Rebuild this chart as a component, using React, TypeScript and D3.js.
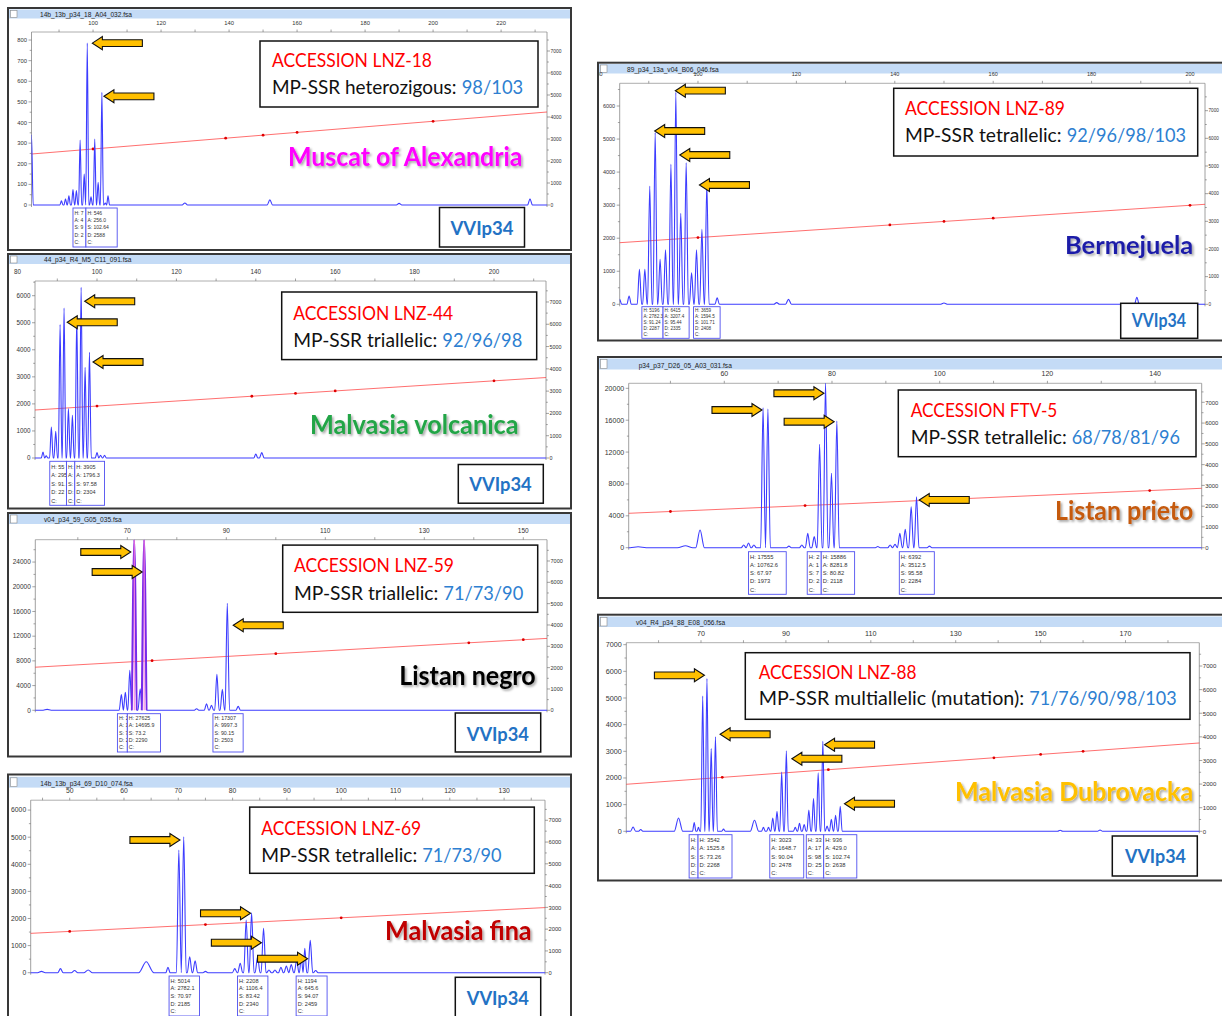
import React from "react";
import * as d3 from "d3";

// Each peak: [size in bp, height in RFU, half width in bp (optional)]
type Peak = [number, number, number?];
type Pt = [number, number];
type Arrow = [number, number, "left" | "right"];
type Info = [number, number, string[]];

// ---------------- Muscat of Alexandria (LNZ-18)
const muscatTitle = "14b_13b_p34_18_A04_032.fsa";
const muscatTopLabels = [100, 120, 140, 160, 180, 200, 220];
const muscatLeftTicks = [0, 100, 200, 300, 400, 500, 600, 700, 800];
const muscatPeaks: Peak[] = [
  [81.9, 340, 0.5], [90.7, 20], [91.9, 30], [92.9, 45], [94.1, 75], [95.1, 70], [96.2, 315],
  [97.4, 150], [98.3, 785], [99.4, 40], [100.5, 320], [101.5, 110], [102.6, 546], [103.6, 10],
  [104.4, 45], [127, 10, 0.8], [152, 25, 0.8], [190, 8, 0.8], [228.5, 30, 0.7],
];
const muscatSizing: Pt[] = [[81.9, 2318], [233.5, 4227]];
const muscatSizingDots: Pt[] = [[100, 2545], [139, 3036], [150, 3175], [160, 3301], [200, 3805]];
const muscatArrows: Arrow[] = [[99.8, 785, "left"], [103.2, 527, "left"]];
const muscatInfo: Info[] = [
  [94.1, 97.9, ["H: 7", "A: 4", "S: 9", "D: 2", "C:"]],
  [97.9, 107.1, ["H: 546", "A: 256.0", "S: 102.64", "D: 2588", "C:"]],
];
const muscatText = ["ACCESSION LNZ-18", "MP-SSR heterozigous:", "98/103", "Muscat of Alexandria"];

// ---------------- Malvasia volcanica (LNZ-44)
const volcanicaTitle = "44_p34_R4_M5_C11_091.fsa";
const volcanicaTopLabels = [80, 100, 120, 140, 160, 180, 200];
const volcanicaLeftTicks = [0, 1000, 2000, 3000, 4000, 5000, 6000];
const volcanicaPeaks: Peak[] = [
  [86.4, 220], [87.2, 80], [88.5, 1146], [89.6, 986], [90.7, 4930], [91.7, 5545], [92.8, 1824],
  [93.8, 1577], [94.9, 5237], [96.0, 6309], [97.0, 3352], [98.1, 3905], [100.0, 200],
  [100.9, 100], [101.9, 100], [140, 150, 0.5], [141.5, 200, 0.6],
];
const volcanicaSizing: Pt[] = [[84.38, 2153], [213.1, 3610]];
const volcanicaSizingDots: Pt[] = [[100, 2330], [139, 2771], [150, 2896], [160, 3009], [200, 3462]];
const volcanicaArrows: Arrow[] = [[96.9, 5793, "left"], [92.5, 5017, "left"], [99.0, 3549, "left"]];
const volcanicaInfo: Info[] = [
  [88.1, 92.3, ["H: 55", "A: 295", "S: 91.", "D: 22", "C:"]],
  [92.3, 94.4, ["H:", "A:", "S:", "D:", "C:"]],
  [94.4, 101.9, ["H: 3905", "A: 1796.3", "S: 97.58", "D: 2304", "C:"]],
];
const volcanicaText = ["ACCESSION LNZ-44", "MP-SSR triallelic:", "92/96/98", "Malvasia volcanica"];

// ---------------- Listan negro (LNZ-59)
const negroTitle = "v04_p34_59_G05_035.fsa";
const negroTopLabels = [70, 90, 110, 130, 150];
const negroLeftTicks = [0, 4000, 8000, 12000, 16000, 20000, 24000];
const negroPeaks: Peak[] = [
  [53.8, 150, 0.8], [68.8, 2530], [69.6, 2900, 0.4], [70.5, 6476, 0.4], [71.4, 27625, 0.5],
  [72.6, 3500], [73.4, 27620, 0.5], [84.0, 260], [86.0, 1070], [87.0, 800], [88.1, 5830],
  [89.2, 3400], [90.2, 17307], [92.4, 650],
];
const negroOffscale = [71.4, 73.4];
const negroSizing: Pt[] = [[51.41, 2020], [154.79, 3371]];
const negroSizingDots: Pt[] = [[75, 2328], [100, 2655], [139, 3165], [150, 3309]];
const negroArrows: Arrow[] = [[70.7, 25630, "right"], [73.0, 22390, "right"], [91.4, 13760, "left"]];
const negroInfo: Info[] = [
  [68.0, 70.0, ["H: 2", "A: 1", "S: 7", "D: 2", "C:"]],
  [70.0, 76.7, ["H: 27625", "A: 14695.9", "S: 73.2", "D: 2290", "C:"]],
  [87.3, 93.4, ["H: 17307", "A: 9997.3", "S: 90.15", "D: 2503", "C:"]],
];
const negroText = ["ACCESSION LNZ-59", "MP-SSR triallelic:", "71/73/90", "Listan negro"];

// ---------------- Malvasia fina (LNZ-69)
const finaTitle = "14b_13b_p34_69_D10_074.fsa";
const finaTopLabels = [50, 60, 70, 80, 90, 100, 110, 120, 130];
const finaLeftTicks = [0, 1000, 2000, 3000, 4000, 5000, 6000];
const finaPeaks: Peak[] = [
  [44.8, 50, 0.7], [48.3, 150, 0.5], [50.9, 80, 0.6], [53.4, 100, 0.8], [64.1, 406, 1.4],
  [68.1, 200, 0.4], [70.1, 4527], [71.0, 5014], [72.1, 590], [73.1, 443], [75.0, 50],
  [80.4, 150], [81.4, 350], [82.5, 1945], [83.5, 2208], [84.6, 600], [85.7, 1638], [86.7, 100],
  [87.8, 100], [88.9, 200], [89.9, 250], [90.8, 300], [91.8, 450], [92.65, 600, 0.35],
  [93.3, 900, 0.35], [94.3, 1194], [95.3, 80],
];
const finaSizing: Pt[] = [[42.82, 1807], [137.53, 2990]];
const finaSizingDots: Pt[] = [[50, 1897], [75, 2209], [100, 2521]];
const finaArrows: Arrow[] = [
  [70.3, 4897, "right"], [83.3, 2192, "right"], [85.3, 1107, "right"], [93.8, 517, "right"],
];
const finaInfo: Info[] = [
  [68.3, 73.9, ["H: 5014", "A: 2782.1", "S: 70.97", "D: 2185", "C:"]],
  [80.9, 86.5, ["H: 2208", "A: 1106.4", "S: 83.42", "D: 2340", "C:"]],
  [91.7, 97.4, ["H: 1194", "A: 645.6", "S: 94.07", "D: 2459", "C:"]],
];
const finaText = ["ACCESSION LNZ-69", "MP-SSR tetrallelic:", "71/73/90", "Malvasia fina"];

// ---------------- Bermejuela (LNZ-89)
const bermejuelaTitle = "89_p34_13a_v04_B06_046.fsa";
const bermejuelaTopLabels = [80, 100, 120, 140, 160, 180, 200];
const bermejuelaLeftTicks = [0, 1000, 2000, 3000, 4000, 5000, 6000];
const bermejuelaPeaks: Peak[] = [
  [84.09, 150, 0.4], [86.0, 250], [88.1, 1059], [89.2, 1059], [90.2, 3580], [91.3, 5196],
  [92.3, 1362], [93.4, 1650], [94.5, 4236], [95.5, 6415], [96.5, 2753], [97.6, 4285],
  [98.7, 950], [99.7, 1650], [100.8, 2270], [101.8, 3659], [103.9, 200], [116, 50, 0.6],
  [118.4, 150, 0.6], [150, 40, 0.8], [189.2, 212, 0.5],
];
const bermejuelaSizing: Pt[] = [[84.09, 2227], [203.05, 3615]];
const bermejuelaSizingDots: Pt[] = [[100, 2413], [139, 2868], [150, 2996], [160, 3113], [200, 3580]];
const bermejuelaArrows: Arrow[] = [
  [95.4, 6464, "left"], [91.2, 5244, "left"], [96.3, 4518, "left"], [100.3, 3610, "left"],
];
const bermejuelaInfo: Info[] = [
  [88.6, 92.9, ["H: 5196", "A: 2782.3", "S: 91.24", "D: 2287", "C:"]],
  [92.9, 98.2, ["H: 6415", "A: 3207.4", "S: 95.44", "D: 2335", "C:"]],
  [99.1, 104.5, ["H: 3659", "A: 1594.5", "S: 101.71", "D: 2408", "C:"]],
];
const bermejuelaText = ["ACCESSION LNZ-89", "MP-SSR tetrallelic:", "92/96/98/103", "Bermejuela"];

// ---------------- Listan prieto (FTV-5)
const prietoTitle = "p34_p37_D26_05_A03_031.fsa";
const prietoTopLabels = [60, 80, 100, 120, 140];
const prietoLeftTicks = [0, 4000, 8000, 12000, 16000, 20000];
const prietoPeaks: Peak[] = [
  [44, 120, 1.5], [52.8, 250, 1.5], [55.5, 2220, 0.8], [63.6, 340], [64.5, 590], [65.5, 340],
  [67.2, 17555, 0.45], [68.1, 17400, 0.45], [72.0, 200], [74.4, 340], [75.5, 1800],
  [76.7, 1400], [77.7, 12970], [78.8, 20800], [79.9, 9330], [80.9, 15886], [88.5, 150],
  [90.8, 340], [91.7, 420], [92.6, 1800], [93.6, 2300], [94.7, 5146], [95.7, 6392], [98.1, 200],
];
const prietoSizing: Pt[] = [[42.25, 1656], [148.65, 2860]];
const prietoSizingDots: Pt[] = [[50, 1744], [75, 2027], [139, 2750]];
const prietoArrows: Arrow[] = [
  [67.0, 17280, "right"], [78.5, 19380, "right"], [80.4, 15810, "right"], [96.2, 5990, "left"],
];
const prietoInfo: Info[] = [
  [64.5, 71.5, ["H: 17555", "A: 10762.6", "S: 67.97", "D: 1973", "C:"]],
  [75.4, 78.0, ["H: 2", "A: 1", "S: 7", "D: 2", "C:"]],
  [78.0, 84.2, ["H: 15886", "A: 8281.8", "S: 80.82", "D: 2118", "C:"]],
  [92.5, 99.0, ["H: 6392", "A: 3512.5", "S: 95.58", "D: 2284", "C:"]],
];
const prietoText = ["ACCESSION FTV-5", "MP-SSR tetrallelic:", "68/78/81/96", "Listan prieto"];

// ---------------- Malvasia Dubrovacka (LNZ-88)
const dubrovackaTitle = "v04_R4_p34_88_E08_056.fsa";
const dubrovackaTopLabels = [70, 90, 110, 130, 150, 170];
const dubrovackaLeftTicks = [0, 1000, 2000, 3000, 4000, 5000, 6000, 7000];
const dubrovackaPeaks: Peak[] = [
  [54.0, 160, 0.6], [55.8, 70, 0.5], [64.7, 500, 1.0], [68.4, 330, 0.4], [69.4, 150, 0.35],
  [70.4, 5075], [71.4, 5725], [72.4, 3100], [73.4, 3542], [75.3, 80], [82.6, 412, 1.0],
  [84.7, 150], [85.9, 150], [86.9, 500], [87.9, 750], [89.0, 2225], [90.1, 3023], [92.2, 150],
  [93.2, 300], [94.3, 250], [95.4, 800], [96.5, 1225], [97.6, 2190], [98.7, 3375], [99.7, 200],
  [100.7, 450], [101.7, 600], [102.8, 936], [154.6, 40, 0.6], [164, 50, 0.6],
];
const dubrovackaSizing: Pt[] = [[52.4, 1992], [187.38, 3741]];
const dubrovackaSizingDots: Pt[] = [[75, 2285], [100, 2609], [139, 3114], [150, 3257], [160, 3386]];
const dubrovackaArrows: Arrow[] = [
  [70.8, 5850, "right"], [74.5, 3638, "left"], [91.4, 2723, "left"], [99.1, 3248, "left"],
  [103.8, 1035, "left"],
];
const dubrovackaInfo: Info[] = [
  [67.2, 69.3, ["H:", "A:", "S:", "D:", "C:"]],
  [69.3, 77.3, ["H: 3542", "A: 1525.8", "S: 73.26", "D: 2268", "C:"]],
  [86.2, 94.2, ["H: 3023", "A: 1648.7", "S: 90.04", "D: 2478", "C:"]],
  [94.8, 98.9, ["H: 33", "A: 17", "S: 98", "D: 25", "C:"]],
  [98.9, 106.7, ["H: 936", "A: 429.0", "S: 102.74", "D: 2638", "C:"]],
];
const dubrovackaText = [
  "ACCESSION LNZ-88", "MP-SSR multiallelic (mutation):", "71/76/90/98/103", "Malvasia Dubrovacka",
];

const rightLabels = [0, 1000, 2000, 3000, 4000, 5000, 6000, 7000];
const markerText = "VVIp34";

// ---------------- layout of the seven screenshots
type Layout = {
  frame: number[]; bar: number[]; titleX: number; plot: number[]; xDomain: number[];
  yMax: number; rMax: number; topStep: number; fs: number;
  infoY: number; infoH: number; infoFs: number;
  box: number[]; textX: number; l1: number; l2: number; w1: number; blue: number[];
  variety: number[]; color: string; vv: number[] | null;
};
type Panel = {
  title: string; topLabels: number[]; leftTicks: number[]; peaks: Peak[]; sizing: Pt[];
  dots: Pt[]; arrows: Arrow[]; info: Info[]; text: string[]; offscale?: number[]; lay: Layout;
};

const panels: Panel[] = [
  {
    title: muscatTitle, topLabels: muscatTopLabels, leftTicks: muscatLeftTicks, peaks: muscatPeaks,
    sizing: muscatSizing, dots: muscatSizingDots, arrows: muscatArrows, info: muscatInfo, text: muscatText,
    lay: {
      frame: [8, 8, 571, 250], bar: [9.5, 18.5], titleX: 40, plot: [31.5, 32, 547, 205],
      xDomain: [81.9, 233.5], yMax: 839, rMax: 7864, topStep: 10, fs: 5.8,
      infoY: 208, infoH: 39, infoFs: 5, box: [260, 41, 538, 107], textX: 272, l1: 67, l2: 94,
      w1: 160, blue: [461.7, 523.3], variety: [288, 524, 166, 27], color: "#FF00FF",
      vv: [439.5, 207.5, 524.5, 247, 450.5, 63, 235],
    },
  },
  {
    title: volcanicaTitle, topLabels: volcanicaTopLabels, leftTicks: volcanicaLeftTicks, peaks: volcanicaPeaks,
    sizing: volcanicaSizing, dots: volcanicaSizingDots, arrows: volcanicaArrows, info: volcanicaInfo, text: volcanicaText,
    lay: {
      frame: [8, 254, 571, 508.5], bar: [255, 264], titleX: 44, plot: [35, 281, 546, 458],
      xDomain: [84.38, 213.1], yMax: 6543, rMax: 7941, topStep: 10, fs: 6.3,
      infoY: 461.3, infoH: 44, infoFs: 5.5, box: [281.7, 292, 536.7, 359.6], textX: 293.3, l1: 320, l2: 347,
      w1: 160, blue: [442.3, 522.3], variety: [310, 519.3, 434.2, 27], color: "#22A546",
      vv: [458.3, 464.5, 543.3, 503.2, 469.3, 62.4, 491],
    },
  },
  {
    title: negroTitle, topLabels: negroTopLabels, leftTicks: negroLeftTicks, peaks: negroPeaks, offscale: negroOffscale,
    sizing: negroSizing, dots: negroSizingDots, arrows: negroArrows, info: negroInfo, text: negroText,
    lay: {
      frame: [8, 513, 571, 756.5], bar: [514, 524], titleX: 44, plot: [35.3, 539.7, 547, 710.3],
      xDomain: [51.41, 154.79], yMax: 27620, rMax: 7998, topStep: 10, fs: 6.5,
      infoY: 713.7, infoH: 38.3, infoFs: 5.3, box: [282.7, 545.1, 537.7, 612.3], textX: 294, l1: 571.7, l2: 599.7,
      w1: 160, blue: [443.3, 523.3], variety: [399.3, 535.7, 684.5, 27], color: "#000000",
      vv: [455.3, 713, 540.7, 752, 466.7, 62.3, 741],
    },
  },
  {
    title: finaTitle, topLabels: finaTopLabels, leftTicks: finaLeftTicks, peaks: finaPeaks,
    sizing: finaSizing, dots: finaSizingDots, arrows: finaArrows, info: finaInfo, text: finaText,
    lay: {
      frame: [8, 774.5, 571, 1022], bar: [776.8, 787.6], titleX: 40.3, plot: [30.7, 800.2, 545, 972.7],
      xDomain: [42.82, 137.53], yMax: 6365, rMax: 7922, topStep: 5, fs: 6.8,
      infoY: 976, infoH: 40, infoFs: 5.6, box: [249.7, 807.1, 534.3, 873.3], textX: 261.3, l1: 835, l2: 862,
      w1: 160, blue: [422.3, 501.7], variety: [385, 531.7, 940, 26], color: "#C00000",
      vv: [455.3, 977.3, 540.7, 1022, 466.7, 62.3, 1005.3],
    },
  },
  {
    title: bermejuelaTitle, topLabels: bermejuelaTopLabels, leftTicks: bermejuelaLeftTicks, peaks: bermejuelaPeaks,
    sizing: bermejuelaSizing, dots: bermejuelaSizingDots, arrows: bermejuelaArrows, info: bermejuelaInfo, text: bermejuelaText,
    lay: {
      frame: [598, 62.7, 1226, 340.5], bar: [64, 73.5], titleX: 627, plot: [619.7, 83.3, 1205, 304.3],
      xDomain: [84.09, 203.05], yMax: 6687, rMax: 7990, topStep: 10, fs: 5.5,
      infoY: 306.7, infoH: 31.6, infoFs: 4.6, box: [893.7, 88.3, 1197.7, 156], textX: 905, l1: 115, l2: 141.7,
      w1: 160, blue: [1066.7, 1186], variety: [1065, 1193.3, 254, 25], color: "#1E1EA8",
      vv: [1120.7, 303.3, 1197.7, 338.3, 1131.7, 54.3, 326.7],
    },
  },
  {
    title: prietoTitle, topLabels: prietoTopLabels, leftTicks: prietoLeftTicks, peaks: prietoPeaks,
    sizing: prietoSizing, dots: prietoSizingDots, arrows: prietoArrows, info: prietoInfo, text: prietoText,
    lay: {
      frame: [598, 357, 1226, 598], bar: [358.5, 369.5], titleX: 638.7, plot: [628.7, 383.3, 1201.7, 547.7],
      xDomain: [42.25, 148.65], yMax: 20630, rMax: 7915, topStep: 10, fs: 7,
      infoY: 551.7, infoH: 42.6, infoFs: 5.8, box: [898.3, 390, 1196, 456.7], textX: 910.7, l1: 416.7, l2: 444.3,
      w1: 146.7, blue: [1071.7, 1180], variety: [1055, 1193.3, 520, 26], color: "#C55A11", vv: null,
    },
  },
  {
    title: dubrovackaTitle, topLabels: dubrovackaTopLabels, leftTicks: dubrovackaLeftTicks, peaks: dubrovackaPeaks,
    sizing: dubrovackaSizing, dots: dubrovackaSizingDots, arrows: dubrovackaArrows, info: dubrovackaInfo, text: dubrovackaText,
    lay: {
      frame: [598, 614.7, 1226, 880.5], bar: [616.5, 627], titleX: 636, plot: [626.3, 642.7, 1199.3, 831.3],
      xDomain: [52.4, 187.38], yMax: 7074, rMax: 7988, topStep: 10, fs: 7.2,
      infoY: 834.7, infoH: 43.3, infoFs: 5.8, box: [745.3, 652.7, 1190, 719.3], textX: 758.7, l1: 678.7, l2: 705.3,
      w1: 158, blue: [1029.3, 1176.7], variety: [955, 1193.3, 801.3, 27], color: "#FFC000",
      vv: [1112.3, 836, 1197.3, 876, 1125, 61, 862.7],
    },
  },
];

// baseline - apex - baseline for every peak, smoothed by a monotone curve
function tracePoints(peaks: Peak[], x0: number, x1: number): Pt[] {
  const s = [...peaks].sort((a, b) => a[0] - b[0]);
  const pts: Pt[] = [[x0 - 10, 0]];
  s.forEach((p, i) => {
    const w = p[2] ?? 0.45;
    const lw = i > 0 ? Math.min(w, (p[0] - s[i - 1][0]) / 2) : w;
    const rw = i < s.length - 1 ? Math.min(w, (s[i + 1][0] - p[0]) / 2) : w;
    pts.push([p[0] - lw, 0], [p[0], p[1]], [p[0] + rw, 0]);
  });
  pts.push([x1 + 10, 0]);
  return pts.filter((q, i) => i === 0 || q[0] > pts[i - 1][0] + 1e-6);
}

const AXIS_FONT = "'Liberation Sans', Arial, sans-serif";
const BOX_FONT = "Lato, 'Open Sans', sans-serif";
const TRACE = "#3C3CFF";

// squeeze a text horizontally so it spans the width seen in the screenshot
const measureCtx = typeof document !== "undefined" ? document.createElement("canvas").getContext("2d") : null;
function textWidth(t: string, size: number, bold: boolean) {
  if (!measureCtx) return t.length * size * 0.55;
  measureCtx.font = `${bold ? "bold " : ""}${size}px Lato`;
  return measureCtx.measureText(t).width;
}
function FitText({ x, y, w, size, bold = false, fill, children, shadow = false }:
  { x: number; y: number; w: number; size: number; bold?: boolean; fill: string; children: string; shadow?: boolean }) {
  const sx = w / textWidth(children, size, bold);
  return (
    <text transform={`translate(${x},${y}) scale(${sx},1)`} fontSize={size} fontWeight={bold ? "bold" : "normal"}
      fontFamily={BOX_FONT} fill={fill} filter={shadow ? "url(#shadow)" : undefined}>{children}</text>
  );
}

function ArrowMark({ tx, ty, dir }: { tx: number; ty: number; dir: "left" | "right" }) {
  const s = dir === "left" ? 1 : -1;
  const L = 50, hl = 10, hh = 6.5, sh = 3.4;
  const pts = [
    [tx, ty], [tx + s * hl, ty - hh], [tx + s * hl, ty - sh], [tx + s * L, ty - sh],
    [tx + s * L, ty + sh], [tx + s * hl, ty + sh], [tx + s * hl, ty + hh],
  ];
  return <polygon points={pts.map((p) => p.join(",")).join(" ")} fill="#FFC000" stroke="#111" strokeWidth={1.1} />;
}

function PanelView({ p, id }: { p: Panel; id: number }) {
  const L = p.lay;
  const [fx0, fy0, fx1, fy1] = L.frame;
  const [pl, pt, pr, pb] = L.plot;
  const x = d3.scaleLinear().domain(L.xDomain).range([pl, pr]);
  const y = d3.scaleLinear().domain([0, L.yMax]).range([pb, pt]);
  const yr = d3.scaleLinear().domain([0, L.rMax]).range([pb, pt]);
  const trace = d3.line<Pt>().x((d) => x(d[0])).y((d) => y(d[1])).curve(d3.curveMonotoneX);
  const straight = d3.line<Pt>().x((d) => x(d[0])).y((d) => yr(d[1]));
  const pts = tracePoints(p.peaks, L.xDomain[0], L.xDomain[1]);

  const topMinor = d3.range(Math.ceil(L.xDomain[0] / L.topStep) * L.topStep, L.xDomain[1], L.topStep);
  const leftStep = p.leftTicks[1] - p.leftTicks[0];
  const leftMinor = d3.range(0, L.yMax, leftStep / 2);
  const rightMinor = d3.range(0, L.rMax, 500);
  const lh = (L.infoH - 2) / 5;
  const fid = `f${id}`, cid = `c${id}`;
  const [vx0, vx1, vy, vfs] = L.variety;

  return (
    <g>
      <defs>
        <clipPath id={fid}><rect x={fx0} y={fy0} width={fx1 - fx0} height={fy1 - fy0} /></clipPath>
        <clipPath id={cid}><rect x={pl} y={pt} width={pr - pl} height={pb - pt + 2} /></clipPath>
      </defs>
      <g clipPath={`url(#${fid})`}>
        <rect x={fx0} y={fy0} width={fx1 - fx0} height={fy1 - fy0} fill="#fff" />
        {/* title bar */}
        <rect x={fx0 + 1} y={L.bar[0]} width={fx1 - fx0 - 2} height={L.bar[1] - L.bar[0]} fill="#C4DBF6" />
        <rect x={fx0 + 2.5} y={L.bar[0] + 1} width={6.5} height={L.bar[1] - L.bar[0] - 2} fill="#fff" stroke="#8a8a8a" strokeWidth={0.6} />
        <text x={L.titleX} y={L.bar[1] - 2} fontSize={6.6} fontFamily={AXIS_FONT} fill="#222">{p.title}</text>

        {/* top size axis */}
        <line x1={pl} x2={pr} y1={pt} y2={pt} stroke="#999" strokeWidth={0.8} />
        {topMinor.map((v) => (
          <line key={`tm${v}`} x1={x(v)} x2={x(v)} y1={pt - 2.5} y2={pt} stroke="#666" strokeWidth={0.6} />
        ))}
        {p.topLabels.map((v) => (
          <text key={`tl${v}`} x={x(v)} y={pt - 7} textAnchor="middle" fontSize={L.fs} fontFamily={AXIS_FONT} fill="#333">{v}</text>
        ))}

        {/* left RFU axis */}
        <line x1={pl} x2={pl} y1={pt} y2={pb + 2} stroke="#888" strokeWidth={0.8} />
        {leftMinor.map((v) => (
          <line key={`lm${v}`} x1={pl - (v % leftStep === 0 ? 3 : 1.8)} x2={pl} y1={y(v)} y2={y(v)} stroke="#666" strokeWidth={0.6} />
        ))}
        {p.leftTicks.map((v) => (
          <text key={`lt${v}`} x={pl - 4.5} y={y(v) + L.fs * 0.35} textAnchor="end" fontSize={L.fs} fontFamily={AXIS_FONT} fill="#333">{v}</text>
        ))}

        {/* right scale */}
        <line x1={pr} x2={pr} y1={pt} y2={pb + 2} stroke="#888" strokeWidth={0.8} />
        {rightMinor.map((v) => (
          <line key={`rm${v}`} x1={pr} x2={pr + (v % 1000 === 0 ? 3 : 1.8)} y1={yr(v)} y2={yr(v)} stroke="#666" strokeWidth={0.6} />
        ))}
        {rightLabels.map((v) => (
          <text key={`rt${v}`} x={pr + 3.5} y={yr(v) + L.fs * 0.32} fontSize={L.fs * 0.85} fontFamily={AXIS_FONT} fill="#333">{v}</text>
        ))}

        {/* sizing curve */}
        <path d={straight(p.sizing) ?? ""} fill="none" stroke="#FF2A2A" strokeOpacity={0.85} strokeWidth={0.8} />
        {p.dots.map((d) => (
          <circle key={`d${d[0]}`} cx={x(d[0])} cy={yr(d[1])} r={1.4} fill="#E00000" />
        ))}

        {/* electropherogram */}
        <g clipPath={`url(#${cid})`}>
          <path d={trace(pts) ?? ""} fill="none" stroke={TRACE} strokeWidth={1.1} strokeLinejoin="round" />
          {(p.offscale ?? []).map((c) => {
            const pk = p.peaks.find((q) => q[0] === c)!;
            const w = pk[2] ?? 0.45;
            const seg: Pt[] = [[c - w, 0], [c, pk[1]], [c + w, 0]];
            return (
              <g key={`o${c}`}>
                <path d={trace(seg) ?? ""} fill="none" stroke="#7A28E8" strokeWidth={1.8} />
                <line x1={x(c)} x2={x(c)} y1={pb} y2={pt} stroke="#FF7AD9" strokeWidth={1} />
              </g>
            );
          })}
        </g>

        {/* peak info boxes */}
        {p.info.map(([a, b, lines], k) => (
          <g key={`i${k}`}>
            <rect x={x(a)} y={L.infoY} width={x(b) - x(a)} height={L.infoH} fill="#fff" stroke="#4F4FF0" strokeWidth={0.9} />
            {lines.map((t, j) => (
              <text key={j} x={x(a) + 1.5} y={L.infoY + (j + 1) * lh - 0.8} fontSize={L.infoFs} fontFamily={AXIS_FONT} fill="#333">{t}</text>
            ))}
          </g>
        ))}

        {/* annotations */}
        {p.arrows.map(([a, v, dir], k) => (
          <ArrowMark key={`a${k}`} tx={x(a)} ty={y(v)} dir={dir} />
        ))}
        <rect x={L.box[0]} y={L.box[1]} width={L.box[2] - L.box[0]} height={L.box[3] - L.box[1]} fill="#fff" stroke="#111" strokeWidth={1.5} />
        <FitText x={L.textX} y={L.l1} w={L.w1} size={19.5} fill="#FF0000">{p.text[0]}</FitText>
        <FitText x={L.textX} y={L.l2} w={L.blue[0] - L.textX - 5} size={19.5} fill="#111">{p.text[1]}</FitText>
        <FitText x={L.blue[0]} y={L.l2} w={L.blue[1] - L.blue[0]} size={19.5} fill="#2E7FD1">{p.text[2]}</FitText>
        <FitText x={vx0} y={vy} w={vx1 - vx0} size={vfs} bold fill={L.color} shadow>{p.text[3]}</FitText>
        {L.vv && (
          <g>
            <rect x={L.vv[0]} y={L.vv[1]} width={L.vv[2] - L.vv[0]} height={L.vv[3] - L.vv[1]} fill="#fff" stroke="#111" strokeWidth={1.5} />
            <FitText x={L.vv[4]} y={L.vv[6]} w={L.vv[5]} size={19} bold fill="#2372C4">{markerText}</FitText>
          </g>
        )}
      </g>
      <rect x={fx0} y={fy0} width={fx1 - fx0} height={fy1 - fy0} fill="none" stroke="#383838" strokeWidth={2} />
    </g>
  );
}

export default function App() {
  return (
    <svg width={1222} height={1016} style={{ position: "absolute", left: 0, top: 0, background: "#fff" }}>
      <defs>
        <filter id="shadow" x="-5%" y="-30%" width="115%" height="170%">
          <feDropShadow dx={1.8} dy={1.8} stdDeviation={1.1} floodColor="#000" floodOpacity={0.35} />
        </filter>
      </defs>
      {panels.map((p, i) => (
        <PanelView key={i} p={p} id={i} />
      ))}
    </svg>
  );
}
